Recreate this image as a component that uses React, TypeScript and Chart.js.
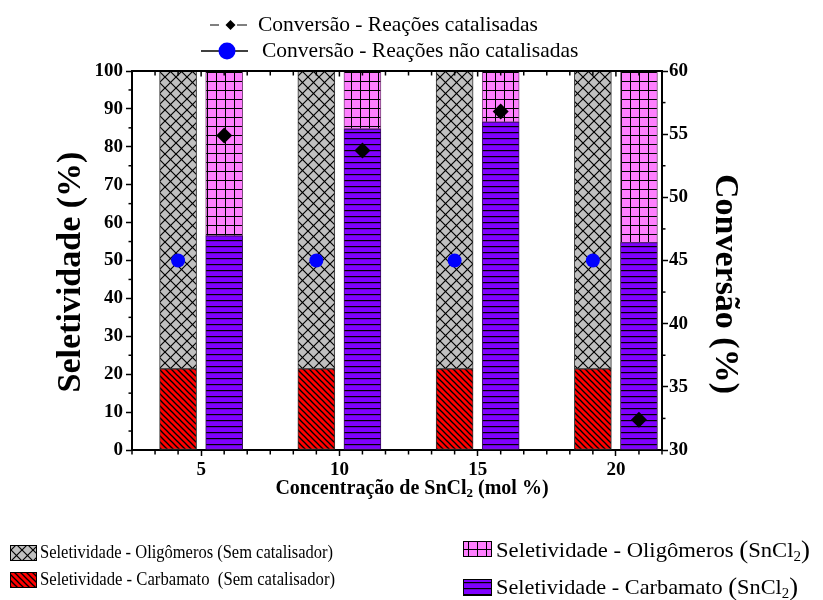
import React, { useEffect, useRef } from 'react';
import { Chart, registerables } from 'chart.js';

Chart.register(...registerables);

// Concentração de SnCl2 (mol %)
const concentracoes = [5, 10, 15, 20];

// Seletividade (%) – empilhadas
const carbamatoSemCatalisador = [21.4, 21.4, 21.4, 21.4];
const oligomerosSemCatalisador = [78.6, 78.6, 78.6, 78.6];
const carbamatoSnCl2 = [56.5, 84.7, 86.5, 54.7];
const oligomerosSnCl2 = [43.5, 15.3, 13.5, 45.3];

// Conversão (%) – eixo direito
const conversaoCatalisada = [54.9, 53.7, 56.8, 32.4];
const conversaoNaoCatalisada = [45, 45, 45, 45];

// Marcas dos eixos
const seletividadeTicks = [0, 10, 20, 30, 40, 50, 60, 70, 80, 90, 100];
const conversaoTicks = [30, 35, 40, 45, 50, 55, 60];
const concentracaoTicks = [5, 10, 15, 20];

const FONT = '"Liberation Serif", "Times New Roman", serif';

// x axis: 23 minor intervals, a major label every 6 of them
const X_MINOR = 5 / 6;
const X_MIN = 2.5;
const X_MAX = X_MIN + 23 * X_MINOR;
const BAR_SHIFT = X_MINOR;

type Part = { t: string; size: number; bold?: boolean; dy?: number };

function fontOf(p: Part) {
  return `${p.bold ? 'bold ' : ''}${p.size}px ${FONT}`;
}

function drawRich(
  ctx: CanvasRenderingContext2D,
  parts: Part[],
  x: number,
  y: number,
  opts: { fit?: number; rotate?: number; align?: 'left' | 'center' } = {}
) {
  let w = 0;
  for (const p of parts) {
    ctx.font = fontOf(p);
    w += ctx.measureText(p.t).width;
  }
  const sx = opts.fit ? opts.fit / w : 1;
  ctx.save();
  ctx.translate(x, y);
  if (opts.rotate) ctx.rotate(opts.rotate);
  ctx.scale(sx, 1);
  ctx.fillStyle = '#000';
  ctx.textBaseline = 'middle';
  ctx.textAlign = 'left';
  let cx = opts.align === 'center' ? -w / 2 : 0;
  for (const p of parts) {
    ctx.font = fontOf(p);
    ctx.fillText(p.t, cx, p.dy || 0);
    cx += ctx.measureText(p.t).width;
  }
  ctx.restore();
}

function makePattern(
  ctx: CanvasRenderingContext2D,
  w: number,
  h: number,
  bg: string,
  draw: (g: CanvasRenderingContext2D) => void
) {
  const c = document.createElement('canvas');
  c.width = w;
  c.height = h;
  const g = c.getContext('2d')!;
  g.fillStyle = bg;
  g.fillRect(0, 0, w, h);
  g.strokeStyle = '#000';
  draw(g);
  return ctx.createPattern(c, 'repeat')!;
}

function seg(ctx: CanvasRenderingContext2D, x1: number, y1: number, x2: number, y2: number) {
  ctx.beginPath();
  ctx.moveTo(x1, y1);
  ctx.lineTo(x2, y2);
  ctx.stroke();
}

export default function App() {
  const ref = useRef<HTMLCanvasElement>(null);

  useEffect(() => {
    const canvas = ref.current!;
    const ctx0 = canvas.getContext('2d')!;

    const crossHatch = makePattern(ctx0, 11, 11, '#c0c0c0', (g) => {
      g.lineWidth = 1.2;
      seg(g, -1, -1, 12, 12);
      seg(g, 12, -1, -1, 12);
    });
    const diagHatch = makePattern(ctx0, 6, 6, '#ff0000', (g) => {
      g.lineWidth = 1.3;
      for (let k = -1; k <= 1; k++) seg(g, k * 6 - 1, -1, k * 6 + 7, 7);
    });
    const gridHatch = makePattern(ctx0, 9, 9, '#ff7fff', (g) => {
      g.lineWidth = 1;
      seg(g, 0.5, 0, 0.5, 9);
      seg(g, 0, 0.5, 9, 0.5);
    });
    const lineHatch = makePattern(ctx0, 6, 6, '#8000ff', (g) => {
      g.lineWidth = 1.2;
      seg(g, 0, 0.6, 6, 0.6);
    });

    const decor = {
      id: 'decor',
      afterDraw(chart: any) {
        const { ctx, chartArea: a, scales } = chart;
        const sx = scales.x;
        const sy = scales.y;
        const sy1 = scales.y1;
        ctx.save();
        ctx.strokeStyle = '#000';
        ctx.lineWidth = 2;
        seg(ctx, a.left - 1, a.top, a.right + 1, a.top);

        // minor ticks
        ctx.lineWidth = 1.5;
        for (let v = 5; v < 100; v += 10) {
          const py = sy.getPixelForValue(v);
          seg(ctx, a.left - 3.5, py, a.left, py);
        }
        for (let v = 32.5; v < 60; v += 5) {
          const py = sy1.getPixelForValue(v);
          seg(ctx, a.right, py, a.right + 3.5, py);
        }
        for (let k = 0; k <= 23; k++) {
          const px = sx.getPixelForValue(X_MIN + k * X_MINOR);
          const major = (k - 3) % 6 === 0;
          if (!major) seg(ctx, px, a.bottom, px, a.bottom + 4.5);
          if (k > 0 && k < 23) seg(ctx, px, a.top, px, a.top + (major ? 5.5 : 4.5));
        }

        // axis titles
        drawRich(ctx, [{ t: 'Seletividade (%)', size: 34, bold: true }], 71, 272, {
          rotate: -Math.PI / 2,
          align: 'center',
        });
        drawRich(ctx, [{ t: 'Conversão (%)', size: 34, bold: true }], 725, 284, {
          rotate: Math.PI / 2,
          align: 'center',
        });
        drawRich(
          ctx,
          [
            { t: 'Concentração de SnCl', size: 20, bold: true },
            { t: '2', size: 13, bold: true, dy: 5 },
            { t: ' (mol %)', size: 20, bold: true },
          ],
          412,
          489,
          { align: 'center' }
        );

        // series key (top)
        ctx.lineWidth = 1;
        seg(ctx, 210, 25, 219, 25);
        seg(ctx, 237, 25, 247, 25);
        ctx.fillStyle = '#000';
        ctx.beginPath();
        ctx.moveTo(230.5, 20);
        ctx.lineTo(235.5, 25);
        ctx.lineTo(230.5, 30);
        ctx.lineTo(225.5, 25);
        ctx.closePath();
        ctx.fill();
        drawRich(ctx, [{ t: 'Conversão - Reações catalisadas', size: 21.5 }], 258, 25);

        ctx.lineWidth = 1.5;
        seg(ctx, 201, 51, 248, 51);
        ctx.fillStyle = '#0000ff';
        ctx.beginPath();
        ctx.arc(227, 51, 8.5, 0, Math.PI * 2);
        ctx.fill();
        drawRich(ctx, [{ t: 'Conversão - Reações não catalisadas', size: 21.5 }], 262, 51);

        // bar key (bottom)
        const box = (x: number, y: number, w: number, h: number, fill: CanvasPattern) => {
          ctx.fillStyle = fill;
          ctx.fillRect(x, y, w, h);
          ctx.strokeStyle = '#000';
          ctx.lineWidth = 1;
          ctx.strokeRect(x + 0.5, y + 0.5, w - 1, h - 1);
        };
        box(10, 545, 27, 16, crossHatch);
        drawRich(ctx, [{ t: 'Seletividade - Oligômeros (Sem catalisador)', size: 18.5 }], 40, 553, { fit: 293 });
        box(10, 572, 27, 16, diagHatch);
        drawRich(ctx, [{ t: 'Seletividade - Carbamato  (Sem catalisador)', size: 18.5 }], 40, 580, { fit: 295 });

        box(463, 541, 29, 16, gridHatch);
        drawRich(
          ctx,
          [
            { t: 'Seletividade - Oligômeros ', size: 21 },
            { t: '(', size: 25 },
            { t: 'SnCl', size: 21 },
            { t: '2', size: 14, dy: 6 },
            { t: ')', size: 25 },
          ],
          496,
          551,
          { fit: 314 }
        );
        box(463, 579, 29, 17, lineHatch);
        drawRich(
          ctx,
          [
            { t: 'Seletividade - Carbamato ', size: 21 },
            { t: '(', size: 25 },
            { t: 'SnCl', size: 21 },
            { t: '2', size: 14, dy: 6 },
            { t: ')', size: 25 },
          ],
          496,
          588,
          { fit: 302 }
        );
        ctx.restore();
      },
    };

    const tickFont = { family: FONT, size: 19, weight: 'bold' as const };
    const axisGrid = {
      drawOnChartArea: false,
      offset: false,
      drawTicks: true,
      tickLength: 6,
      tickWidth: 1.5,
      tickColor: '#000',
    };
    const axisBorder = { display: true, color: '#000', width: 2 };

    const barCommon = {
      borderColor: '#333',
      borderWidth: 1,
      borderSkipped: false as const,
      barThickness: 37,
      yAxisID: 'y',
    };

    const chart = new Chart(canvas, {
      type: 'bar',
      data: {
        datasets: [
          {
            type: 'scatter',
            label: 'Conversão - Reações catalisadas',
            data: concentracoes.map((c, i) => ({ x: c + BAR_SHIFT, y: conversaoCatalisada[i] })),
            yAxisID: 'y1',
            pointStyle: 'rectRot',
            pointRadius: 8,
            backgroundColor: '#000',
            borderColor: '#000',
            borderWidth: 0,
            showLine: false,
          } as any,
          {
            type: 'scatter',
            label: 'Conversão - Reações não catalisadas',
            data: concentracoes.map((c, i) => ({ x: c - BAR_SHIFT, y: conversaoNaoCatalisada[i] })),
            yAxisID: 'y1',
            pointStyle: 'circle',
            pointRadius: 7,
            backgroundColor: '#0000ff',
            borderColor: '#0000ff',
            borderWidth: 0,
            showLine: false,
          } as any,
          {
            ...barCommon,
            label: 'Seletividade - Carbamato (Sem catalisador)',
            data: concentracoes.map((c, i) => ({ x: c - BAR_SHIFT, y: carbamatoSemCatalisador[i] })),
            backgroundColor: diagHatch,
          } as any,
          {
            ...barCommon,
            label: 'Seletividade - Oligômeros (Sem catalisador)',
            data: concentracoes.map((c, i) => ({ x: c - BAR_SHIFT, y: oligomerosSemCatalisador[i] })),
            backgroundColor: crossHatch,
          } as any,
          {
            ...barCommon,
            label: 'Seletividade - Carbamato (SnCl2)',
            data: concentracoes.map((c, i) => ({ x: c + BAR_SHIFT, y: carbamatoSnCl2[i] })),
            backgroundColor: lineHatch,
            borderColor: '#3a1060',
          } as any,
          {
            ...barCommon,
            label: 'Seletividade - Oligômeros (SnCl2)',
            data: concentracoes.map((c, i) => ({ x: c + BAR_SHIFT, y: oligomerosSnCl2[i] })),
            backgroundColor: gridHatch,
            borderColor: '#7a4a7a',
          } as any,
        ],
      },
      options: {
        animation: false,
        responsive: false,
        devicePixelRatio: 1,
        layout: { padding: { top: 71, left: 0, right: 0, bottom: 0 } },
        plugins: { legend: { display: false }, tooltip: { enabled: false }, title: { display: false } },
        scales: {
          x: {
            type: 'linear',
            min: X_MIN,
            max: X_MAX,
            stacked: true,
            offset: false,
            afterBuildTicks: (s: any) => {
              s.ticks = concentracaoTicks.map((v) => ({ value: v }));
            },
            afterFit: (s: any) => {
              s.height = 150;
            },
            grid: axisGrid,
            border: axisBorder,
            ticks: { font: tickFont, color: '#000', padding: 3, maxRotation: 0, autoSkip: false },
          },
          y: {
            type: 'linear',
            position: 'left',
            min: 0,
            max: 100,
            stacked: true,
            afterBuildTicks: (s: any) => {
              s.ticks = seletividadeTicks.map((v) => ({ value: v }));
            },
            afterFit: (s: any) => {
              s.width = 132;
            },
            grid: axisGrid,
            border: axisBorder,
            ticks: { font: tickFont, color: '#000', padding: 3, autoSkip: false },
          },
          y1: {
            type: 'linear',
            position: 'right',
            min: 30,
            max: 60,
            afterBuildTicks: (s: any) => {
              s.ticks = conversaoTicks.map((v) => ({ value: v }));
            },
            afterFit: (s: any) => {
              s.width = 161;
            },
            grid: axisGrid,
            border: axisBorder,
            ticks: { font: tickFont, color: '#000', padding: 1, autoSkip: false },
          },
        },
      } as any,
      plugins: [decor],
    });

    return () => chart.destroy();
  }, []);

  return (
    <div style={{ position: 'absolute', left: 0, top: 0, width: 823, height: 600, background: '#fff' }}>
      <canvas ref={ref} width={823} height={600} />
    </div>
  );
}
